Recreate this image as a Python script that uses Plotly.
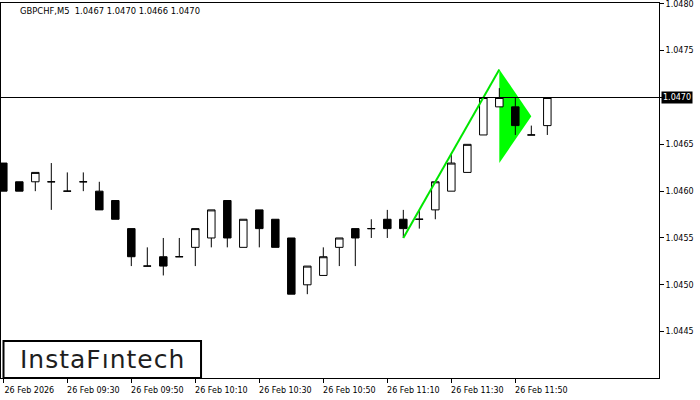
import plotly.graph_objects as go

# ---- data -----------------------------------------------------------
times = ["09:10", "09:15", "09:20", "09:25", "09:30", "09:35", "09:40", "09:45",
         "09:50", "09:55", "10:00", "10:05", "10:10", "10:15", "10:20", "10:25",
         "10:30", "10:35", "10:40", "10:45", "10:50", "10:55", "11:00", "11:05",
         "11:10", "11:15", "11:20", "11:25", "11:30", "11:35", "11:40", "11:45",
         "11:50", "11:55", "12:00"]
opens = [1.0463, 1.0461, 1.0461, 1.0461, 1.0460, 1.0461, 1.0460, 1.0459,
         1.0456, 1.0452, 1.0453, 1.0453, 1.0454, 1.0455, 1.0459, 1.0454,
         1.0458, 1.0457, 1.0455, 1.0450, 1.0451, 1.0454, 1.0456, 1.0456,
         1.0457, 1.0457, 1.0457, 1.0458, 1.0460, 1.0462, 1.0466, 1.0469,
         1.0469, 1.0466, 1.0467]
highs = [1.0463, 1.0461, 1.0462, 1.0463, 1.0462, 1.0462, 1.0461, 1.0459,
         1.0456, 1.0454, 1.0455, 1.0455, 1.0456, 1.0458, 1.0459, 1.0457,
         1.0458, 1.0457, 1.0455, 1.0452, 1.0454, 1.0455, 1.0456, 1.0457,
         1.0458, 1.0458, 1.0458, 1.0461, 1.0464, 1.0465, 1.0470, 1.0471,
         1.0470, 1.0467, 1.0470]
lows = [1.0460, 1.0460, 1.0460, 1.0458, 1.0460, 1.0460, 1.0458, 1.0457,
        1.0452, 1.0452, 1.0451, 1.0453, 1.0452, 1.0454, 1.0454, 1.0454,
        1.0454, 1.0454, 1.0449, 1.0449, 1.0451, 1.0452, 1.0452, 1.0455,
        1.0455, 1.0455, 1.0456, 1.0457, 1.0460, 1.0462, 1.0466, 1.0469,
        1.0466, 1.0466, 1.0466]
closes = [1.0460, 1.0460, 1.0462, 1.0461, 1.0460, 1.0461, 1.0458, 1.0457,
          1.0453, 1.0452, 1.0452, 1.0453, 1.0456, 1.0458, 1.0455, 1.0457,
          1.0456, 1.0454, 1.0449, 1.0452, 1.0453, 1.0455, 1.0455, 1.0456,
          1.0456, 1.0456, 1.0457, 1.0461, 1.0463, 1.0465, 1.0470, 1.0470,
          1.0467, 1.0466, 1.0470]

# bullish pennant: pole and flag (bar index, price)
pole_idx = [25, 31]
pole_price = [1.0455, 1.0473]
flag_idx = [31, 33, 31]
flag_price = [1.0473, 1.0468, 1.0463]

tick_idx = [0, 4, 8, 12, 16, 20, 24, 28, 32]
tick_labels = ["26 Feb 2026", "26 Feb 09:30", "26 Feb 09:50", "26 Feb 10:10",
               "26 Feb 10:30", "26 Feb 10:50", "26 Feb 11:10", "26 Feb 11:30",
               "26 Feb 11:50"]
price_ticks = [1.0445, 1.0450, 1.0455, 1.0460, 1.0465, 1.0470, 1.0475, 1.0480]
symbol = "GBPCHF,M5"

x = list(range(len(times)))
FONT = "DejaVu Sans"

fig = go.Figure()
fig.add_trace(go.Candlestick(
    x=x, open=opens, high=highs, low=lows, close=closes,
    increasing=dict(fillcolor="white", line=dict(color="black", width=1)),
    decreasing=dict(fillcolor="black", line=dict(color="black", width=1)),
    whiskerwidth=0, showlegend=False, hoverinfo="skip"))
fig.add_trace(go.Scatter(
    x=pole_idx, y=pole_price, mode="lines",
    line=dict(color="#00e600", width=2), showlegend=False, hoverinfo="skip"))

flag_path = "M {},{} L {},{} L {},{} Z".format(
    flag_idx[0], flag_price[0], flag_idx[1], flag_price[1], flag_idx[2], flag_price[2])
fig.add_shape(type="path", path=flag_path, xref="x", yref="y",
              fillcolor="#00ff00", line=dict(width=0), layer="below")

last = closes[-1]
fig.add_shape(type="line", xref="paper", x0=0, x1=1, yref="y", y0=last, y1=last,
              line=dict(color="black", width=1))

fig.add_annotation(xref="paper", yref="y", x=1, y=last, xanchor="left", yanchor="middle",
                   xshift=2, text="{:.4f}".format(last), showarrow=False,
                   bgcolor="black", borderpad=1,
                   font=dict(family=FONT, size=8, color="white"))

fig.add_annotation(xref="paper", yref="paper", x=0.0258, y=0.979, xanchor="left",
                   yanchor="middle", showarrow=False,
                   text="{}  {:.4f} {:.4f} {:.4f} {:.4f}".format(
                       symbol, opens[-1], highs[-1], lows[-1], closes[-1]),
                   font=dict(family=FONT, size=8.4, color="black"))

# logo box
fig.add_shape(type="rect", xref="paper", yref="paper", x0=0.0038, x1=0.304,
              y0=0.0, y1=0.0987, line=dict(color="black", width=2), fillcolor="white")
fig.add_annotation(xref="paper", yref="paper", x=0.1535, y=0.05, xanchor="center",
                   yanchor="middle", showarrow=False,
                   text='<span style="letter-spacing:1px">InstaF\u0131ntech</span>',
                   font=dict(family=FONT, size=25, color="#1e1e1e"))

fig.update_layout(
    width=700, height=400,
    margin=dict(l=1, r=41, t=3, b=22),
    paper_bgcolor="white", plot_bgcolor="white",
    boxgap=0.33,
    xaxis=dict(range=[-0.144, 40.98], rangeslider=dict(visible=False),
               showgrid=False, zeroline=False, showline=True, mirror=True,
               linecolor="black", linewidth=1,
               tickmode="array", tickvals=tick_idx, ticktext=tick_labels,
               ticks="outside", ticklen=4, tickcolor="black",
               ticklabelshift=26,
               tickfont=dict(family=FONT, size=8, color="black")),
    yaxis=dict(range=[1.044005, 1.048009], side="right",
               showgrid=False, zeroline=False, showline=True, mirror=True,
               linecolor="black", linewidth=1,
               tickmode="array", tickvals=price_ticks,
               ticktext=["{:.4f}".format(v) if v != last else "" for v in price_ticks],
               ticks="outside", ticklen=4, tickcolor="black",
               ticklabeloverflow="allow",
               tickfont=dict(family=FONT, size=8, color="black")),
)

fig.write_html("out.html", config={"displayModeBar": False},
               post_script="document.body.style.margin='0';")
